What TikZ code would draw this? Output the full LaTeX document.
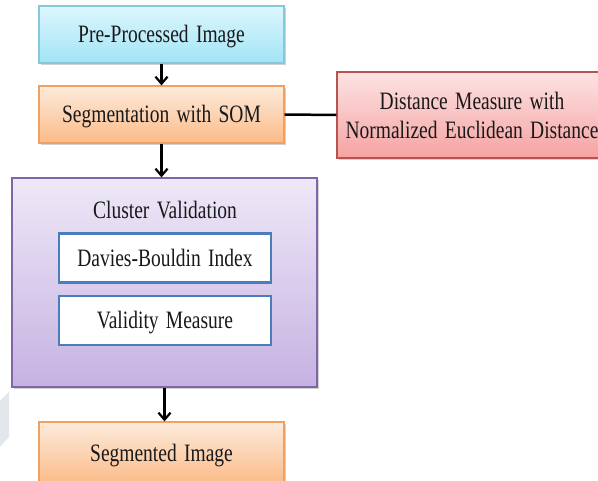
\documentclass[tikz,border=0pt]{standalone}
\usepackage{fontspec}
\setmainfont[FakeStretch=0.78, WordSpace=1.5]{Liberation Serif}
\usetikzlibrary{arrows.meta,shadows,calc}

\definecolor{cyanTop}{HTML}{DDF7FD}
\definecolor{cyanBot}{HTML}{A2E4F6}
\definecolor{cyanLine}{HTML}{86C7D9}
\definecolor{orTop}{HTML}{FDEBDC}
\definecolor{orBot}{HTML}{FBBB88}
\definecolor{orLine}{HTML}{F0A060}
\definecolor{pkTop}{HTML}{FDE3E3}
\definecolor{pkBot}{HTML}{F6A2A2}
\definecolor{pkLine}{HTML}{B85450}
\definecolor{lvTop}{HTML}{EEE8F7}
\definecolor{lvBot}{HTML}{C6B2E2}
\definecolor{lvLine}{HTML}{7F66A6}
\definecolor{innerLine}{HTML}{4A7DBA}
\definecolor{markGrey}{HTML}{E3E7EB}

\tikzset{
  every node/.style={font=\fontsize{25}{29}\selectfont, inner sep=0pt, text=black!90},
  flowbox/.style={draw, line width=1.2pt, minimum width=#1, align=center,
    drop shadow={shadow xshift=1.8pt, shadow yshift=-1.8pt, opacity=0.35}},
  cyanbox/.style={flowbox=245pt, minimum height=57pt, draw=cyanLine, top color=cyanTop, bottom color=cyanBot},
  orbox/.style={flowbox=245pt, minimum height=57pt, draw=orLine, top color=orTop, bottom color=orBot},
  pkbox/.style={flowbox=270pt, minimum height=86pt, draw=pkLine, top color=pkTop, bottom color=pkBot},
  lvbox/.style={flowbox=305pt, minimum height=209pt, draw=lvLine, top color=lvTop, bottom color=lvBot},
  innerbox/.style={draw=innerLine, line width=2.5pt, fill=white, minimum width=212pt, minimum height=49pt},
  oneline/.style={text depth=1pt},
  flowarrow/.style={line width=2.2pt, -{Straight Barb[length=7pt, width=12pt, line width=2.2pt]}},
  link/.style={line width=2.5pt}
}

\begin{document}
\begin{tikzpicture}[x=1pt, y=-1pt]
  \clip (0,0) rectangle (598,481);
  \useasboundingbox (0,0) rectangle (598,481);
  \fill[white] (0,0) rectangle (598,481);

  % faint mark at the left edge
  \fill[markGrey] (0,401) -- (9,392) -- (9,437) -- (0,447) -- cycle;

  \node[cyanbox, oneline] (pre) at (161.5,34.5) {Pre-Processed Image};
  \node[orbox, oneline] (seg) at (161.5,114.5) {Segmentation with SOM};
  \node[pkbox] (dist) at (472,115) {Distance Measure with\\Normalized Euclidean Distance};
  \node[lvbox] (clus) at (164.5,282.5) {};
  \node[oneline] (title) at (165,210) {Cluster Validation};
  \node[innerbox, oneline] (dbi) at (165,258) {Davies-Bouldin Index};
  \node[innerbox, oneline] (vm) at (165,320.5) {Validity Measure};
  \node[orbox, oneline, minimum height=62pt] (out) at (161.5,453) {Segmented Image};

  \draw[flowarrow] (pre.south) -- (seg.north);
  \draw[flowarrow] (seg.south) -- (seg.south |- clus.north);
  \draw[link] (seg.east) -- (dist.west);
  \draw[flowarrow] (clus.south) -- (clus.south |- out.north);
\end{tikzpicture}
\end{document}
